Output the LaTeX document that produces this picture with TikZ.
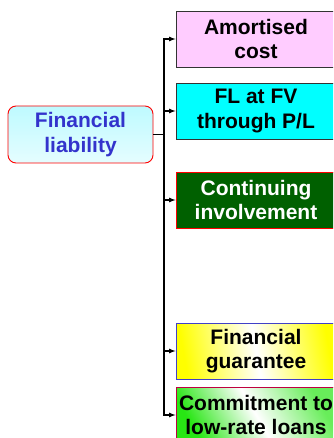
\documentclass[tikz,border=0pt]{standalone}
\usepackage{fontspec}
\setmainfont{Liberation Sans}
\usetikzlibrary{arrows,positioning}
\definecolor{rootblue}{RGB}{51,51,204}
\definecolor{rootcyan}{RGB}{190,250,255}
\definecolor{amortpink}{RGB}{255,204,255}
\definecolor{fvcyan}{RGB}{0,255,255}
\definecolor{cigreen}{RGB}{0,96,0}
\definecolor{guarblue}{RGB}{64,64,200}
\definecolor{guaryellow}{RGB}{255,255,0}
\definecolor{commitgreen}{RGB}{40,230,20}
\tikzset{%
	block/.style    = {draw=black!80, rectangle, line width=0.9pt, minimum width=160pt, minimum height=56pt, inner sep=0pt, align=center, font=\fontsize{21}{24.5}\selectfont\bfseries},
	root/.style     = {block, draw=red, rounded corners=8pt, minimum width=145pt, minimum height=57pt, text=rootblue}, % Source
	waypoint/.style = {coordinate}, % Split point
}
\begin{document}
\begin{tikzpicture}[x=1pt, y=-1pt, node distance=72pt, >=latex, line width=1.2pt]
		\clip (0,0) rectangle (333,438);
		\node[root, top color=rootcyan, bottom color=rootcyan!40!white] (fin) at (80.5,134.5) {Financial\\liability};
		\node[block, fill=amortpink] (amort) at (256,39) {Amortised\\cost};
		\node[block, fill=fvcyan, below of=amort] (fvpl) {FL at FV\\through P/L};
		\node[block, fill=cigreen, draw=red, text=white, below of=fvpl, node distance=89pt] (cont) {Continuing\\involvement};
		\node[block, draw=guarblue, left color=guaryellow, right color=guaryellow, middle color=white, shading angle=100, below of=cont, node distance=151pt] (guar) {Financial\\guarantee};
		\node[block, draw=purple, left color=commitgreen, right color=commitgreen!70, middle color=white, shading angle=120, below of=guar, node distance=64pt] (commit) {Commitment to\\low-rate loans};
		\node[waypoint] (split) at (164,134.5) {};
		\draw (fin) -- (split);
		\foreach \b in {amort,fvpl,cont,guar,commit}
			\draw[->] (split) |- (\b);
\end{tikzpicture}
\end{document}
